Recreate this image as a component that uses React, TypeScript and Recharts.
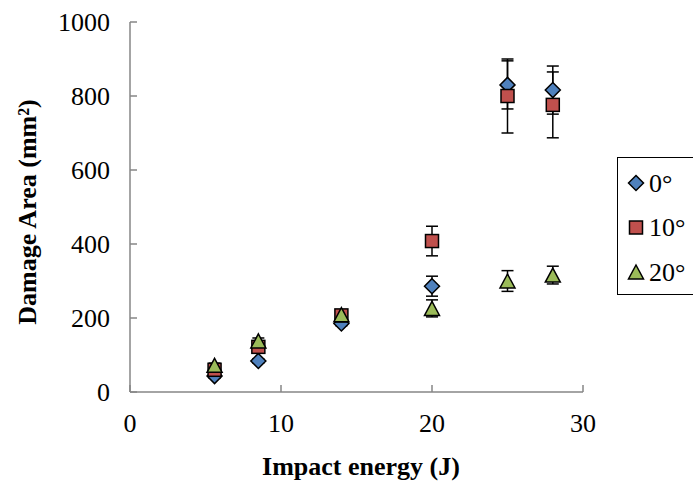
import React from "react";
import {
  ScatterChart,
  Scatter,
  XAxis,
  YAxis,
  ErrorBar,
} from "recharts";

// impact energies (J) shared by all three ply angles
const energies = [5.6, 8.5, 14, 20, 25, 28];

// mean damage area (mm²) and standard deviation per angle
const area0 = [43, 84, 185, 286, 830, 816];
const err0 = [6, 6, 6, 27, 65, 65];
const area10 = [60, 122, 207, 408, 800, 776];
const err10 = [6, 8, 6, 40, 100, 89];
const area20 = [72, 138, 209, 226, 300, 316];
const err20 = [6, 8, 6, 23, 28, 24];

const seriesNames = ["0°", "10°", "20°"];
const xTicks = [0, 10, 20, 30];
const yTicks = [0, 200, 400, 600, 800, 1000];

const FONT = '"Liberation Serif", "Times New Roman", serif';
const AXIS_GREY = "#868686";
const W = 693;
const H = 482;

const toRows = (vals: number[], errs: number[]) =>
  energies.map((x, i) => ({ x, y: vals[i], err: errs[i] }));

type MarkerKind = "diamond" | "square" | "triangle";

const MARKER_FILL: Record<MarkerKind, string> = {
  diamond: "#4F81BD",
  square: "#C0504D",
  triangle: "#9BBB59",
};

const Marker = ({ kind, cx, cy }: { kind: MarkerKind; cx: number; cy: number }) => {
  const common = { fill: MARKER_FILL[kind], stroke: "#000", strokeWidth: 1.5 };
  if (kind === "diamond") {
    const r = 7.5;
    return (
      <polygon
        points={`${cx},${cy - r} ${cx + r},${cy} ${cx},${cy + r} ${cx - r},${cy}`}
        {...common}
      />
    );
  }
  if (kind === "square") {
    return <rect x={cx - 6.5} y={cy - 6.5} width={13} height={13} {...common} />;
  }
  return (
    <polygon
      points={`${cx},${cy - 7} ${cx + 7.5},${cy + 7} ${cx - 7.5},${cy + 7}`}
      {...common}
    />
  );
};

const shapeFor = (kind: MarkerKind) => (props: any) =>
  <Marker kind={kind} cx={props.cx} cy={props.cy} />;

const series = [
  { name: seriesNames[0], kind: "diamond" as MarkerKind, data: toRows(area0, err0) },
  { name: seriesNames[1], kind: "square" as MarkerKind, data: toRows(area10, err10) },
  { name: seriesNames[2], kind: "triangle" as MarkerKind, data: toRows(area20, err20) },
];

// legend box runs off the right edge of the chart
const LegendBox = () => (
  <div
    style={{
      position: "absolute",
      left: 617,
      top: 157,
      width: 110,
      height: 136,
      border: "1.5px solid #000",
      background: "#fff",
    }}
  >
    <svg width={110} height={136}>
      {series.map((s, i) => {
        const cy = 25 + i * 44.5;
        return (
          <g key={s.name}>
            <Marker kind={s.kind} cx={18} cy={cy} />
            <text
              x={31}
              y={cy}
              dominantBaseline="central"
              style={{ fontFamily: FONT }}
              fontSize={26}
              fill="#000"
            >
              {s.name}
            </text>
          </g>
        );
      })}
    </svg>
  </div>
);

export default function App() {
  return (
    <div
      style={{
        position: "fixed",
        left: 0,
        top: 0,
        width: W,
        height: H,
        overflow: "hidden",
        background: "#fff",
      }}
    >
      <ScatterChart
        width={W}
        height={H}
        margin={{ top: 22, right: 110, bottom: 0, left: 0 }}
      >
        <XAxis
          type="number"
          dataKey="x"
          domain={[0, 30]}
          ticks={xTicks}
          interval={0}
          height={90}
          stroke={AXIS_GREY}
          strokeWidth={1.5}
          tickSize={-7}
          tickMargin={29}
          tick={{ fill: "#000", fontSize: 26, style: { fontFamily: FONT } }}
          label={{
            content: () => (
              <text
                x={361}
                y={H - 7}
                textAnchor="middle"
                style={{ fontFamily: FONT }}
                fontWeight="bold"
                fontSize={26}
                fill="#000"
              >
                Impact energy (J)
              </text>
            ),
          }}
        />
        <YAxis
          type="number"
          dataKey="y"
          domain={[0, 1000]}
          ticks={yTicks}
          interval={0}
          width={130}
          stroke={AXIS_GREY}
          strokeWidth={1.5}
          tickSize={-7}
          tickMargin={27}
          tick={{ fill: "#000", fontSize: 26, style: { fontFamily: FONT } }}
          label={{
            content: ({ viewBox }: any) => {
              const cx = 27;
              const cy = viewBox.y + viewBox.height / 2 + 5;
              return (
                <text
                  x={cx}
                  y={cy}
                  transform={`rotate(-90 ${cx} ${cy})`}
                  textAnchor="middle"
                  dominantBaseline="central"
                  style={{ fontFamily: FONT }}
                  fontWeight="bold"
                  fontSize={26}
                  fill="#000"
                >
                  Damage Area (mm²)
                </text>
              );
            },
          }}
        />
        {series.map((s) => (
          <Scatter
            key={s.name}
            name={s.name}
            data={s.data}
            shape={shapeFor(s.kind)}
            isAnimationActive={false}
          >
            <ErrorBar
              dataKey="err"
              direction="y"
              width={6}
              stroke="#000"
              strokeWidth={1.5}
              isAnimationActive={false}
            />
          </Scatter>
        ))}
      </ScatterChart>
      <LegendBox />
    </div>
  );
}
